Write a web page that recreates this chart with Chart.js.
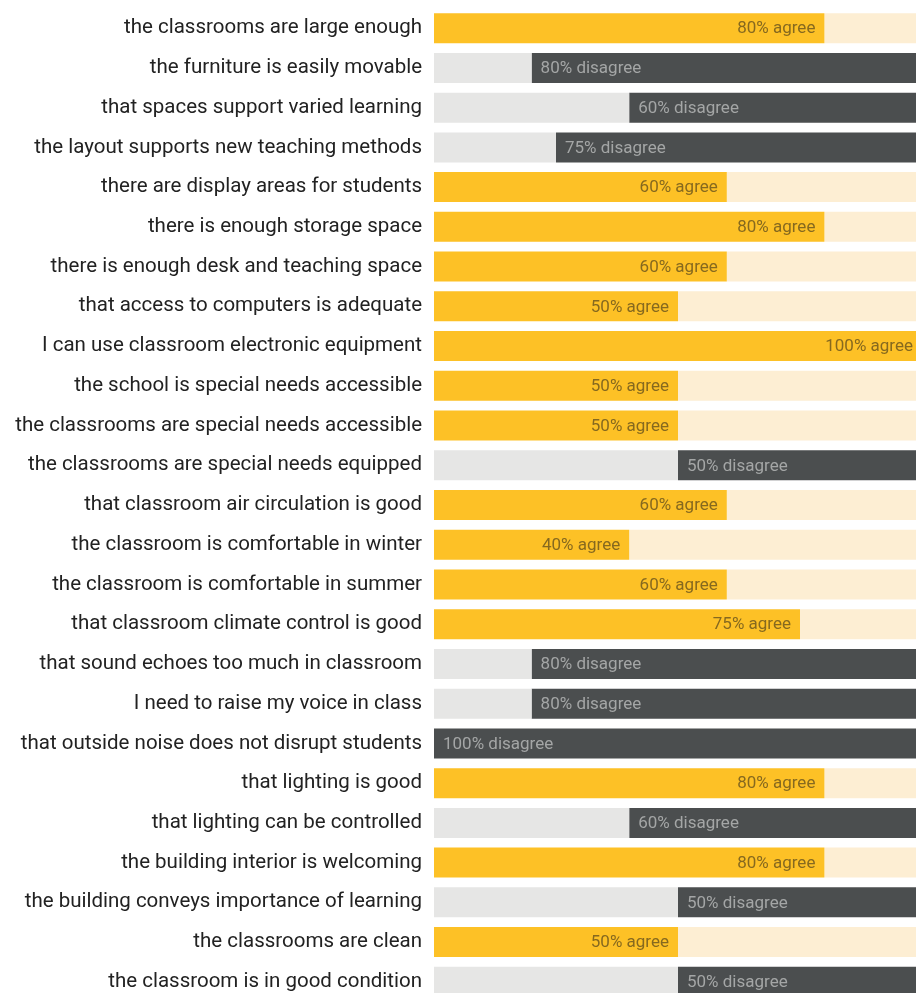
<!DOCTYPE html>
<html lang="en">
<head>
    <meta charset="UTF-8">
    <title>Classroom Survey</title>
    <script src="https://cdn.jsdelivr.net/npm/chart.js"></script>
    <style>
        body { margin: 0; background: #fff; overflow: hidden; }
        #wrap { width: 922px; height: 1026px; margin-top: -8px; position: relative; }
    </style>
</head>
<body>
    <div id="wrap"><canvas id="surveyChart"></canvas></div>
    <script>
        const categories = [
            'the classrooms are large enough',
            'the furniture is easily movable',
            'that spaces support varied learning',
            'the layout supports new teaching methods',
            'there are display areas for students',
            'there is enough storage space',
            'there is enough desk and teaching space',
            'that access to computers is adequate',
            'I can use classroom electronic equipment',
            'the school is special needs accessible',
            'the classrooms are special needs accessible',
            'the classrooms are special needs equipped',
            'that classroom air circulation is good',
            'the classroom is comfortable in winter',
            'the classroom is comfortable in summer',
            'that classroom climate control is good',
            'that sound echoes too much in classroom',
            'I need to raise my voice in class',
            'that outside noise does not disrupt students',
            'that lighting is good',
            'that lighting can be controlled',
            'the building interior is welcoming',
            'the building conveys importance of learning',
            'the classrooms are clean',
            'the classroom is in good condition'
        ];
        const percents = [80, 80, 60, 75, 60, 80, 60, 50, 100, 50, 50, 50, 60, 40, 60, 75, 80, 80, 100, 80, 60, 80, 50, 50, 50];
        const responses = ['agree', 'disagree', 'disagree', 'disagree', 'agree', 'agree', 'agree', 'agree', 'agree', 'agree',
            'agree', 'disagree', 'agree', 'agree', 'agree', 'agree', 'disagree', 'disagree', 'disagree', 'agree',
            'disagree', 'agree', 'disagree', 'agree', 'disagree'];

        const YELLOW = '#fdc126', YELLOW_LIGHT = '#fdeed3';
        const DARK = '#4b4e4f', GRAY_LIGHT = '#e6e6e5';
        const FONT = 'Roboto, "Noto Sans", sans-serif';

        // first segment from the left, second fills to 100
        const firstVals = percents.map((p, i) => responses[i] === 'agree' ? p : 100 - p);
        const secondVals = percents.map((p, i) => responses[i] === 'agree' ? 100 - p : p);

        const labelPlugin = {
            id: 'barText',
            afterDatasetsDraw(chart) {
                const ctx = chart.ctx;
                const m0 = chart.getDatasetMeta(0), m1 = chart.getDatasetMeta(1);
                ctx.save();
                ctx.font = '17px ' + FONT;
                ctx.textBaseline = 'middle';
                percents.forEach((p, i) => {
                    const text = p + '% ' + responses[i];
                    if (responses[i] === 'agree') {
                        const bar = m0.data[i];
                        ctx.fillStyle = '#86691f';
                        ctx.textAlign = 'right';
                        ctx.fillText(text, bar.x - 9, bar.y + 1);
                    } else {
                        const bar = m1.data[i];
                        ctx.fillStyle = '#a4a6a6';
                        ctx.textAlign = 'left';
                        ctx.fillText(text, bar.base + 9, bar.y + 1);
                    }
                });
                ctx.restore();
            }
        };

        new Chart(document.getElementById('surveyChart'), {
            type: 'bar',
            data: {
                labels: categories,
                datasets: [
                    {
                        data: firstVals,
                        backgroundColor: responses.map(r => r === 'agree' ? YELLOW : GRAY_LIGHT)
                    },
                    {
                        data: secondVals,
                        backgroundColor: responses.map(r => r === 'agree' ? YELLOW_LIGHT : DARK)
                    }
                ]
            },
            options: {
                indexAxis: 'y',
                responsive: true,
                maintainAspectRatio: false,
                animation: false,
                barPercentage: 1,
                categoryPercentage: 0.755,
                layout: { padding: { top: 8, bottom: 8, left: 0, right: 0 } },
                plugins: { legend: { display: false }, tooltip: { enabled: false } },
                scales: {
                    x: { stacked: true, min: 0, max: 100, display: false },
                    y: {
                        stacked: true,
                        grid: { display: false },
                        border: { display: false },
                        ticks: { color: '#222', padding: 4, font: { family: FONT, size: 20.5 } },
                        afterFit(scale) { scale.width = 434; }
                    }
                }
            },
            plugins: [labelPlugin]
        });
    </script>
</body>
</html>
